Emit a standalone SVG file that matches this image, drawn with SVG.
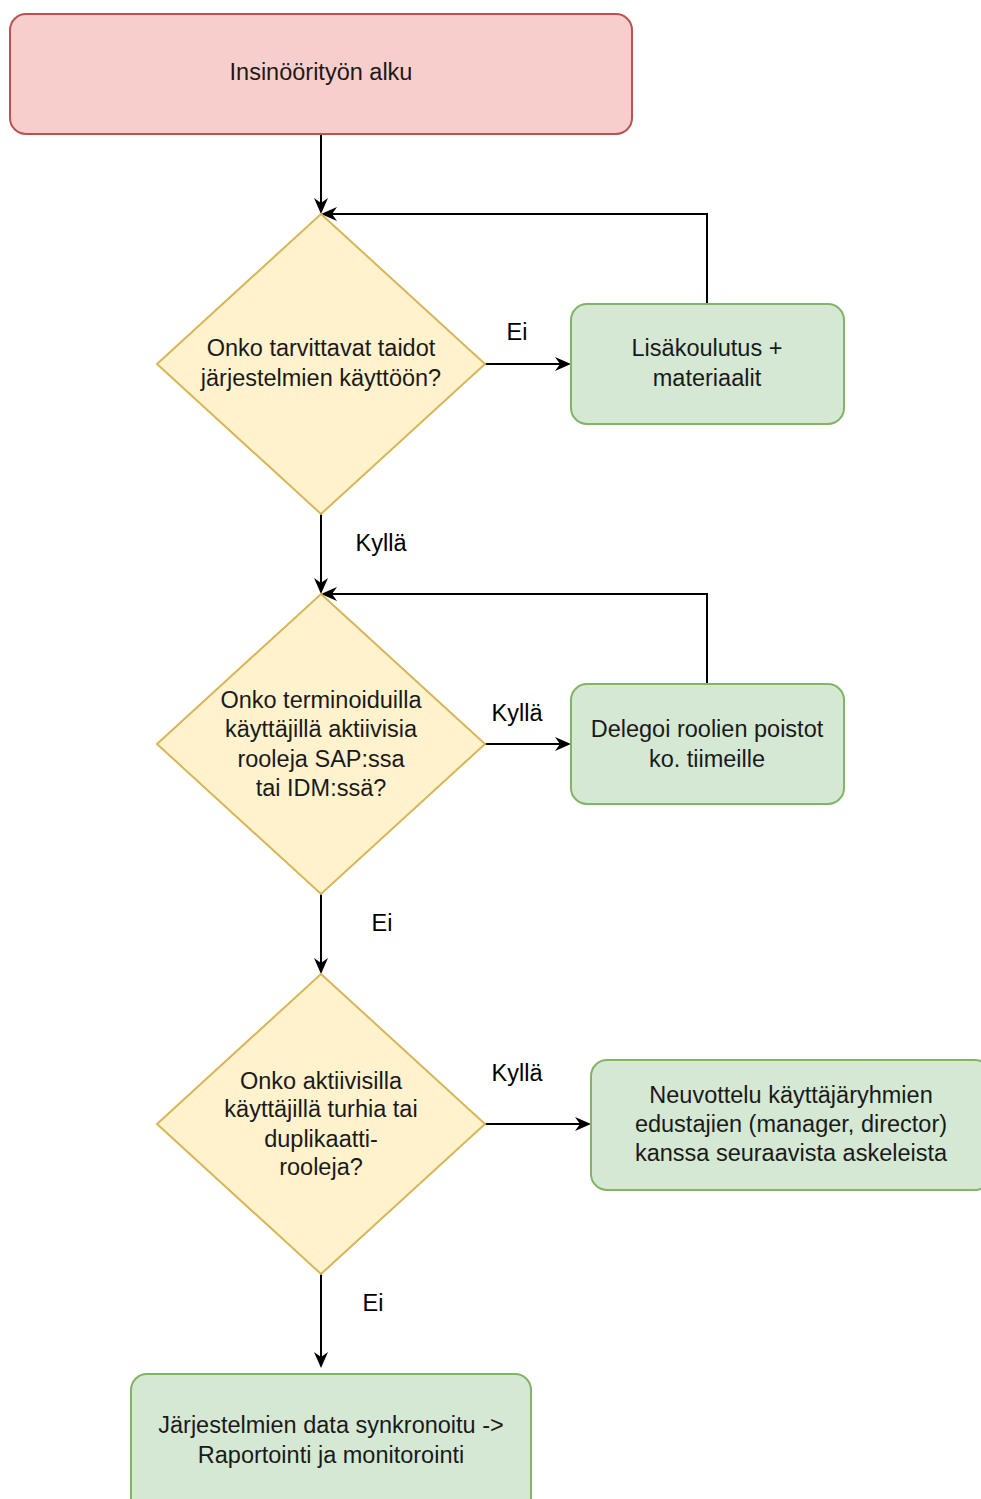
<svg xmlns="http://www.w3.org/2000/svg" width="981" height="1499" viewBox="0 0 981 1499">
<style>
text{font-family:"Liberation Sans",Arial,sans-serif;font-size:23.5px;fill:#1a1a1a;text-anchor:middle}
.red{fill:#f8cecc;stroke:#b85450;stroke-width:2}
.yel{fill:#fff2cc;stroke:#d6b656;stroke-width:2}
.grn{fill:#d5e8d4;stroke:#82b366;stroke-width:2}
.edge{fill:none;stroke:#000;stroke-width:2}
.lbl{fill:#000}
</style>
<defs>
<marker id="arr" markerWidth="16" markerHeight="14" refX="14" refY="7" orient="auto" markerUnits="userSpaceOnUse">
<path d="M0,0 L16,7 L0,14 L5,7 Z" fill="#000"/>
</marker>
</defs>
<rect width="981" height="1499" fill="#fff"/>
<g id="connectors">
<path class="edge" d="M321,134 V212" marker-end="url(#arr)"/>
<path class="edge" d="M485,364 H569" marker-end="url(#arr)"/>
<path class="edge" d="M707,304 V214 H323" marker-end="url(#arr)"/>
<path class="edge" d="M321,514 V592" marker-end="url(#arr)"/>
<path class="edge" d="M485,744 H569" marker-end="url(#arr)"/>
<path class="edge" d="M707,684 V594 H323" marker-end="url(#arr)"/>
<path class="edge" d="M321,894 V972" marker-end="url(#arr)"/>
<path class="edge" d="M485,1124 H589" marker-end="url(#arr)"/>
<path class="edge" d="M321,1274 V1366" marker-end="url(#arr)"/>
<text class="lbl" x="517" y="340">Ei</text>
<text class="lbl" x="381" y="551">Kyllä</text>
<text class="lbl" x="517" y="721">Kyllä</text>
<text class="lbl" x="382" y="931">Ei</text>
<text class="lbl" x="517" y="1081">Kyllä</text>
<text class="lbl" x="373" y="1311">Ei</text>
</g>
<g id="start">
<rect class="red" x="10" y="14" width="622" height="120" rx="16"/>
<text x="321" y="80">Insinöörityön alku</text>
</g>
<g id="d1">
<path class="yel" d="M321,214 L485,364 L321,514 L157,364 Z"/>
<text x="321" y="356">Onko tarvittavat taidot</text>
<text x="321" y="386">järjestelmien käyttöön?</text>
</g>
<g id="b1">
<rect class="grn" x="571" y="304" width="273" height="120" rx="16"/>
<text x="707" y="356">Lisäkoulutus +</text>
<text x="707" y="386">materiaalit</text>
</g>
<g id="d2">
<path class="yel" d="M321,594 L485,744 L321,894 L157,744 Z"/>
<text x="321" y="708">Onko terminoiduilla</text>
<text x="321" y="737">käyttäjillä aktiivisia</text>
<text x="321" y="767">rooleja SAP:ssa</text>
<text x="321" y="796">tai IDM:ssä?</text>
</g>
<g id="b2">
<rect class="grn" x="571" y="684" width="273" height="120" rx="16"/>
<text x="707" y="737">Delegoi roolien poistot</text>
<text x="707" y="767">ko. tiimeille</text>
</g>
<g id="d3">
<path class="yel" d="M321,974 L485,1124 L321,1274 L157,1124 Z"/>
<text x="321" y="1089">Onko aktiivisilla</text>
<text x="321" y="1117">käyttäjillä turhia tai</text>
<text x="321" y="1147">duplikaatti-</text>
<text x="321" y="1175">rooleja?</text>
</g>
<g id="b3">
<rect class="grn" x="591" y="1060" width="400" height="130" rx="16"/>
<text x="791" y="1103">Neuvottelu käyttäjäryhmien</text>
<text x="791" y="1132">edustajien (manager, director)</text>
<text x="791" y="1161">kanssa seuraavista askeleista</text>
</g>
<g id="end">
<rect class="grn" x="131" y="1374" width="400" height="140" rx="16"/>
<text x="331" y="1433">Järjestelmien data synkronoitu -&gt;</text>
<text x="331" y="1463">Raportointi ja monitorointi</text>
</g>
</svg>
